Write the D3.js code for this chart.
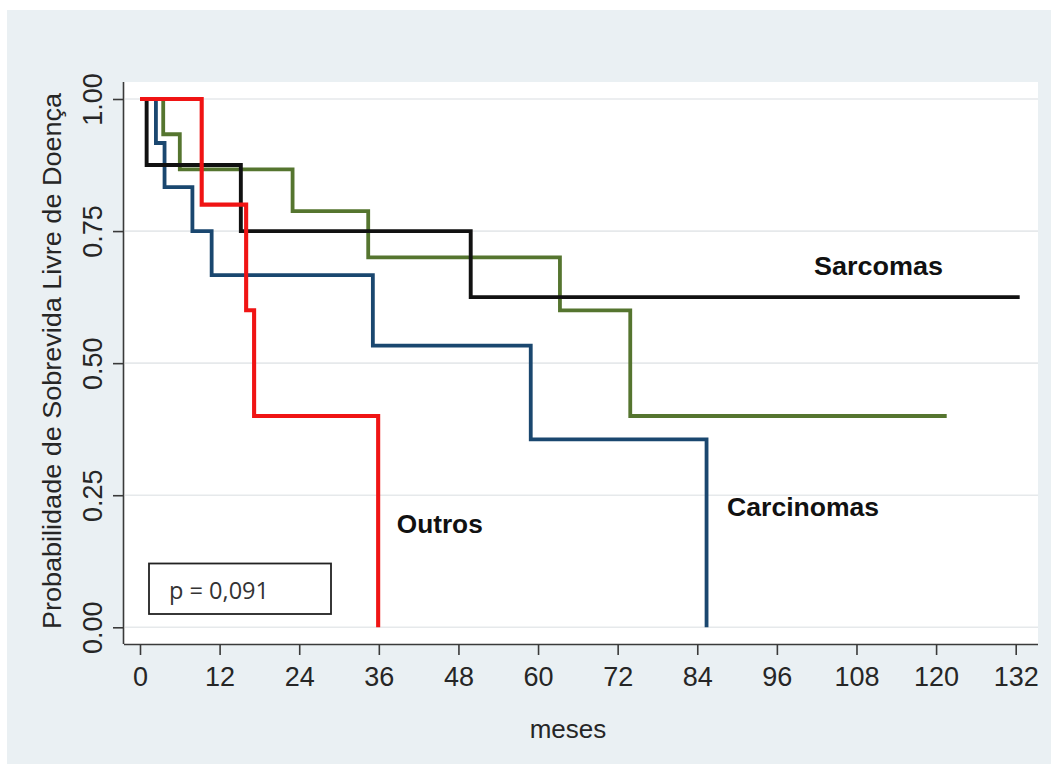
<!DOCTYPE html>
<html>
<head>
<meta charset="utf-8">
<script src="https://cdn.jsdelivr.net/npm/d3@7"></script>
<style>
  html, body { margin: 0; padding: 0; background: #ffffff; }
  svg { display: block; font-family: "Liberation Sans", Arial, Helvetica, sans-serif; }
</style>
</head>
<body>
<svg id="chart" width="1057" height="771"></svg>
<script>
// Kaplan–Meier disease-free survival by tumour group (time in months)
const xTicks = [0, 12, 24, 36, 48, 60, 72, 84, 96, 108, 120, 132];
const yTicks = [0, 0.25, 0.5, 0.75, 1];
const yTickLabels = ["0.00", "0.25", "0.50", "0.75", "1.00"];

const groupNames = ["Carcinomas", "Grupo 3", "Sarcomas", "Outros"];

// event times (months) and survival after each step
const carcinomaTimes = [0, 2.4, 3.7, 7.9, 10.8, 35.1, 58.9, 85.4];
const carcinomaSurv  = [1, 0.9167, 0.8333, 0.75, 0.6667, 0.5333, 0.3556, 0];

const group3Times = [0, 3.5, 6.0, 23.0, 34.4, 63.3, 73.9, 121.6];
const group3Surv  = [1, 0.9333, 0.8667, 0.7879, 0.7003, 0.6, 0.4, 0.4];

const sarcomaTimes = [0, 1.0, 15.2, 49.85, 132.6];
const sarcomaSurv  = [1, 0.875, 0.75, 0.625, 0.625];

const outrosTimes = [0, 9.3, 16.0, 17.2, 35.9];
const outrosSurv  = [1, 0.8, 0.6, 0.4, 0];

const pValueText = "p = 0,091";
const xTitle = "meses";
const yTitle = "Probabilidade de Sobrevida Livre de Doença";

// ---- layout ----
const svg = d3.select("#chart");
const plotLeft = 124, plotRight = 1038, plotTop = 82, plotBottom = 644;

const x = d3.scaleLinear().domain([0, 132]).range([140, 1015.7]);
const y = d3.scaleLinear().domain([0, 1]).range([627.3, 99]);

// graph region background
svg.append("rect")
  .attr("x", 7).attr("y", 10).attr("width", 1044).attr("height", 754)
  .attr("fill", "#eaf0f3");

// plot region
svg.append("rect")
  .attr("x", plotLeft).attr("y", plotTop)
  .attr("width", plotRight - plotLeft).attr("height", plotBottom - plotTop)
  .attr("fill", "#ffffff");

// horizontal grid
svg.append("g").selectAll("line").data(yTicks).join("line")
  .attr("x1", plotLeft + 1).attr("x2", plotRight)
  .attr("y1", d => y(d)).attr("y2", d => y(d))
  .attr("stroke", "#e6e9eb").attr("stroke-width", 1.6);

// axes
const axisColor = "#3a3a3a";
const xAxis = svg.append("g")
  .attr("transform", `translate(0,${plotBottom})`)
  .call(d3.axisBottom(x).tickValues(xTicks).tickSize(11).tickPadding(12).tickSizeOuter(0));
xAxis.select(".domain").attr("d", `M${plotLeft},0.5H${plotRight}`);

const yAxis = svg.append("g")
  .attr("transform", `translate(${plotLeft},0)`)
  .call(d3.axisLeft(y).tickValues(yTicks).tickSize(11).tickSizeOuter(0)
    .tickFormat((d, i) => yTickLabels[i]));
yAxis.select(".domain").attr("d", `M-0.5,${plotTop}V${plotBottom}`);

[xAxis, yAxis].forEach(g => {
  g.select(".domain").attr("stroke", axisColor).attr("stroke-width", 1.6);
  g.selectAll(".tick line").attr("stroke", axisColor).attr("stroke-width", 1.6);
  g.selectAll(".tick text").attr("fill", "#262626").attr("font-size", 27)
    .attr("font-family", "'Liberation Sans', Arial, sans-serif");
});

yAxis.selectAll(".tick text")
  .attr("transform", "rotate(-90)")
  .attr("text-anchor", "middle")
  .attr("x", 0).attr("y", -22).attr("dy", 0);

// axis titles
svg.append("text")
  .attr("x", 568).attr("y", 738)
  .attr("text-anchor", "middle")
  .attr("font-size", 26).attr("fill", "#262626")
  .text(xTitle);

svg.append("text")
  .attr("transform", "translate(61,361) rotate(-90)")
  .attr("text-anchor", "middle")
  .attr("font-size", 26.5).attr("fill", "#262626")
  .attr("textLength", 536).attr("lengthAdjust", "spacingAndGlyphs")
  .text(yTitle);

// survival curves
const series = [
  { name: groupNames[1], times: group3Times,    surv: group3Surv,    color: "#55752f", width: 3.8 },
  { name: groupNames[0], times: carcinomaTimes, surv: carcinomaSurv, color: "#1a476f", width: 3.8 },
  { name: groupNames[2], times: sarcomaTimes,   surv: sarcomaSurv,   color: "#111111", width: 3.9 },
  { name: groupNames[3], times: outrosTimes,    surv: outrosSurv,    color: "#f01414", width: 4.1 }
];

const line = d3.line()
  .x(d => x(d[0]))
  .y(d => y(d[1]))
  .curve(d3.curveStepAfter);

svg.append("g").selectAll("path").data(series).join("path")
  .attr("d", s => line(s.times.map((t, i) => [t, s.surv[i]])))
  .attr("fill", "none")
  .attr("stroke", s => s.color)
  .attr("stroke-width", s => s.width)
  .attr("stroke-linejoin", "miter")
  .attr("stroke-linecap", "butt");

// curve labels
const curveLabels = [
  { text: groupNames[2], t: 101.6, s: 0.667, len: 129 },
  { text: groupNames[0], t: 88.5,  s: 0.210, len: 152 },
  { text: groupNames[3], t: 38.7,  s: 0.178, len: 86 }
];
svg.append("g").selectAll("text").data(curveLabels).join("text")
  .attr("x", d => x(d.t)).attr("y", d => y(d.s))
  .attr("font-size", 26).attr("font-weight", "bold").attr("fill", "#111")
  .attr("textLength", d => d.len).attr("lengthAdjust", "spacingAndGlyphs")
  .text(d => d.text);

// p-value box
const pBox = svg.append("g");
pBox.append("rect")
  .attr("x", 149).attr("y", 563.5).attr("width", 182).attr("height", 50.5)
  .attr("fill", "#ffffff").attr("stroke", "#222").attr("stroke-width", 1.8);
pBox.append("text")
  .attr("x", 169).attr("y", 599)
  .attr("font-size", 23).attr("fill", "#333")
  .attr("font-family", "'Open Sans', 'Liberation Sans', sans-serif")
  .attr("textLength", 100).attr("lengthAdjust", "spacingAndGlyphs")
  .text(pValueText);
</script>
</body>
</html>
